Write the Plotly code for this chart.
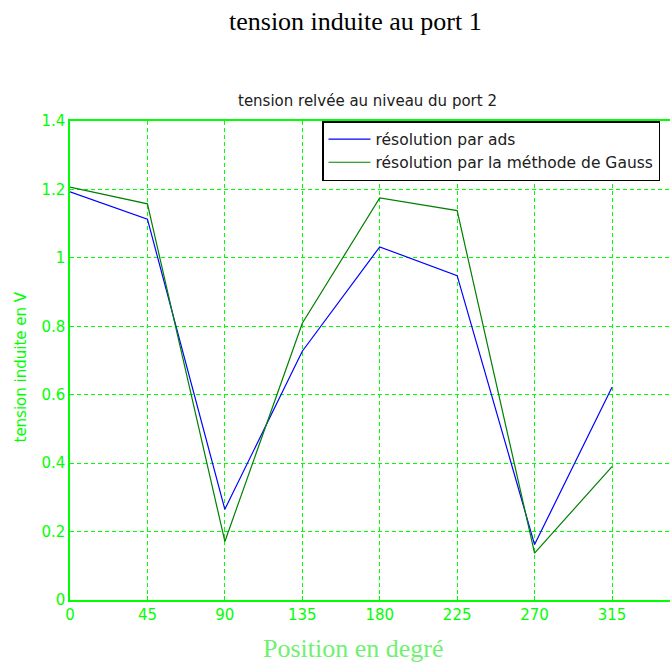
import plotly.graph_objects as go

positions = [0, 45, 90, 135, 180, 225, 270, 315]
tension_ads = [1.193, 1.113, 0.265, 0.727, 1.032, 0.948, 0.162, 0.622]
tension_gauss = [1.207, 1.158, 0.171, 0.809, 1.175, 1.138, 0.137, 0.39]

y_ticks = [0, 0.2, 0.4, 0.6, 0.8, 1, 1.2, 1.4]
y_labels = ["0", "0.2", "0.4", "0.6", "0.8", "1", "1.2", "1.4"]

GREEN = "#00ff00"
SANS = "DejaVu Sans, Verdana, sans-serif"
SERIF = "Liberation Serif, Times New Roman, serif"

fig = go.Figure()
fig.add_trace(go.Scatter(x=positions, y=tension_ads, mode="lines",
                         name="résolution par ads",
                         line=dict(color="#0000ff", width=1.2)))
fig.add_trace(go.Scatter(x=positions, y=tension_gauss, mode="lines",
                         name="résolution par la méthode de Gauss",
                         line=dict(color="#008000", width=1.2)))

fig.update_layout(
    width=670, height=663,
    margin=dict(l=70, r=0, t=121, b=63),
    paper_bgcolor="white", plot_bgcolor="white",
    showlegend=True,
    legend=dict(x=0.42, y=1, xanchor="left", yanchor="top",
                bordercolor="black", borderwidth=1.5, bgcolor="white",
                font=dict(family=SANS, size=15.5, color="#202020"),
                tracegroupgap=0, itemwidth=42),
    font=dict(family=SANS),
)

fig.update_xaxes(range=[0, 348.7], tickvals=positions,
                 ticktext=[str(p) for p in positions],
                 showline=True, linecolor=GREEN, linewidth=1.5, mirror=True,
                 showgrid=True, gridcolor=GREEN, griddash="4px,3px", gridwidth=1,
                 ticks="inside", ticklen=4, tickcolor=GREEN,
                 tickfont=dict(color=GREEN, size=15, family=SANS),
                 zeroline=False)
fig.update_yaxes(range=[0, 1.4], tickvals=y_ticks, ticktext=y_labels,
                 showline=True, linecolor=GREEN, linewidth=1.5,
                 showgrid=True, gridcolor=GREEN, griddash="4px,3px", gridwidth=1,
                 ticks="inside", ticklen=4, tickcolor=GREEN,
                 tickfont=dict(color=GREEN, size=15, family=SANS),
                 zeroline=False)

fig.add_annotation(text="tension induite au port 1", xref="paper", yref="paper",
                   x=0.475, y=1, yshift=100, xanchor="center", yanchor="middle",
                   showarrow=False,
                   font=dict(family=SERIF, size=26, color="black"))
fig.add_annotation(text="tension relvée au niveau du port 2", xref="paper", yref="paper",
                   x=0.495, y=1, yshift=20, xanchor="center", yanchor="middle",
                   showarrow=False,
                   font=dict(family=SANS, size=15, color="#202020"))
fig.add_annotation(text="tension induite en V", xref="paper", yref="paper",
                   x=0, xshift=-50, y=0.5, yshift=-7, xanchor="center", yanchor="middle",
                   textangle=-90, showarrow=False,
                   font=dict(family=SANS, size=15, color=GREEN))
fig.add_annotation(text="Position en degré", xref="paper", yref="paper",
                   x=0.473, y=0, yshift=-48, xanchor="center", yanchor="middle",
                   showarrow=False, bgcolor="white",
                   font=dict(family=SERIF, size=26, color="#70f070"))

crisp = ("document.body.style.margin='0';"
         "document.querySelectorAll('.gridlayer path, .xlines-above, .ylines-above')"
         ".forEach(function(p){p.style.shapeRendering='crispEdges';});")
fig.write_html("out.html", config={"displayModeBar": False}, post_script=crisp)
